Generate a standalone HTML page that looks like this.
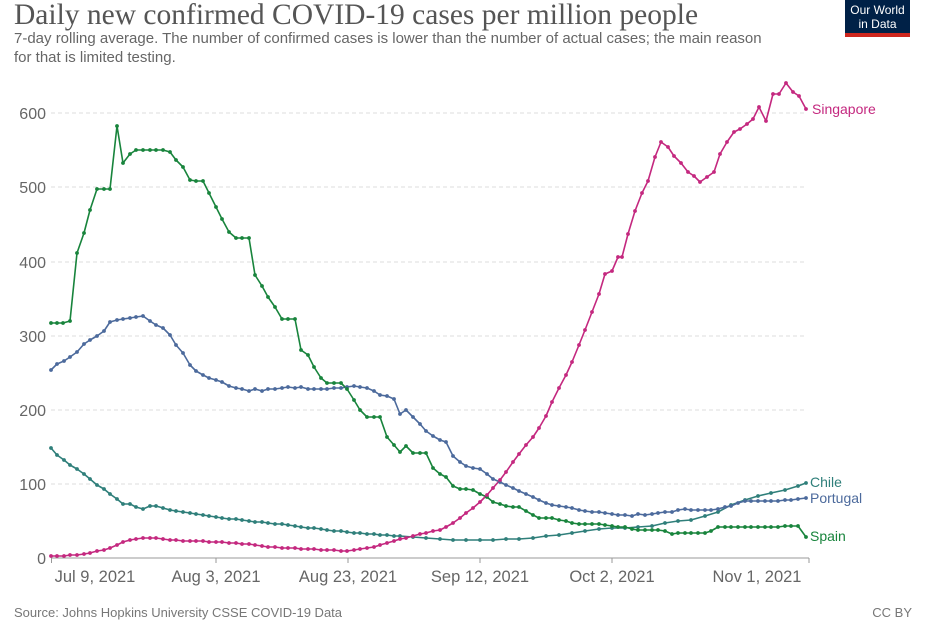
<!DOCTYPE html>
<html><head><meta charset="utf-8"><style>
body{margin:0;width:928px;height:621px;background:#fff;overflow:hidden;font-family:"Liberation Sans",sans-serif}
</style></head><body>
<svg width="928" height="621" viewBox="0 0 928 621" xmlns="http://www.w3.org/2000/svg" font-family="Liberation Sans, sans-serif">
<text x="14" y="24" font-family="Liberation Serif, serif" font-size="29.5" fill="#555">Daily new confirmed COVID-19 cases per million people</text>
<text x="14" y="43" font-size="15" fill="#666">7-day rolling average. The number of confirmed cases is lower than the number of actual cases; the main reason</text>
<text x="14" y="62" font-size="15" fill="#666">for that is limited testing.</text>
<rect x="845" y="0" width="65" height="33" fill="#002147"/>
<rect x="845" y="33" width="65" height="4" fill="#ce261e"/>
<text x="877.5" y="14" font-size="12" fill="#fff" text-anchor="middle">Our World</text>
<text x="877.5" y="28" font-size="12" fill="#fff" text-anchor="middle">in Data</text>
<g stroke="#ddd" stroke-dasharray="4,3" stroke-width="1">
<line x1="51" x2="806" y1="113" y2="113"/><line x1="51" x2="806" y1="187" y2="187"/>
<line x1="51" x2="806" y1="262" y2="262"/><line x1="51" x2="806" y1="336" y2="336"/>
<line x1="51" x2="806" y1="410" y2="410"/><line x1="51" x2="806" y1="484" y2="484"/>
</g>
<line x1="51" x2="809" y1="558" y2="558" stroke="#999"/>
<g stroke="#999"><line x1="51.5" x2="51.5" y1="558" y2="563"/><line x1="216" x2="216" y1="558" y2="563"/><line x1="348" x2="348" y1="558" y2="563"/><line x1="480" x2="480" y1="558" y2="563"/><line x1="612" x2="612" y1="558" y2="563"/><line x1="809" x2="809" y1="558" y2="563"/></g>
<g font-size="16" fill="#666" text-anchor="end">
<text x="46" y="119">600</text><text x="46" y="193">500</text><text x="46" y="268">400</text><text x="46" y="342">300</text><text x="46" y="416">200</text><text x="46" y="490">100</text><text x="46" y="564">0</text>
</g>
<g font-size="16.5" fill="#666" text-anchor="middle">
<text x="95" y="582">Jul 9, 2021</text><text x="216" y="582">Aug 3, 2021</text><text x="348" y="582">Aug 23, 2021</text><text x="480" y="582">Sep 12, 2021</text><text x="612" y="582">Oct 2, 2021</text><text x="757" y="582">Nov 1, 2021</text>
</g>
<text x="14" y="617" font-size="13" fill="#777">Source: Johns Hopkins University CSSE COVID-19 Data</text>
<text x="912" y="617" font-size="13" fill="#777" text-anchor="end">CC BY</text>

<g fill="none" stroke-width="1.6" stroke-linejoin="round">
<polyline id="chile" stroke="#2f7f7a" points="51,448 57,455 64,460 70,465 77,469 84,474 90,479 97,485 104,489 110,494 117,499 123,504 130,504 136,507 143,509 150,506 156,506 163,508 170,510 176,511 183,512 190,513 196,514 203,515 209,516 216,517 222,518 229,519 236,519 242,520 249,521 255,522 262,522 268,523 275,524 282,524 288,525 295,526 301,527 308,528 314,528 321,529 327,530 334,531 341,531 347,532 354,533 360,533 367,534 374,534 380,535 387,535 394,536 400,536 413,537 426,538 440,539 453,540 466,540 480,540 493,540 506,539 519,539 533,538 546,536 559,535 572,533 585,531 599,529 612,528 625,528 638,527 652,526 665,523 678,521 691,520 705,516 718,512 731,505 745,500 758,496 771,493 785,490 798,486 806,483"/>
<polyline id="portugal" stroke="#4c6a9c" points="51,370 57,364 64,361 70,357 77,352 84,344 90,340 97,336 104,331 110,322 117,320 123,319 130,318 136,317 143,316 150,321 156,325 163,328 170,335 176,345 183,353 190,365 196,371 203,375 209,378 216,380 222,382 229,386 236,388 242,389 249,391 255,389 262,391 268,389 275,389 282,388 288,387 295,388 301,387 308,389 314,389 321,389 327,389 334,388 341,388 347,387 354,386 360,387 367,388 374,391 380,395 387,396 394,399 400,414 406,410 413,417 420,424 426,431 433,436 440,440 446,442 453,456 460,462 466,466 473,468 480,469 487,474 493,479 500,482 506,485 513,488 519,491 526,494 533,497 539,500 546,503 552,505 559,506 566,507 572,508 579,510 585,511 592,512 599,512 605,513 612,514 618,515 625,515 632,516 638,514 645,515 652,514 658,513 665,512 672,512 678,510 685,509 691,510 698,510 705,510 711,510 718,509 725,507 731,506 738,503 745,501 751,501 758,501 765,501 771,501 778,501 785,500 791,500 798,499 806,498"/>
<polyline id="spain" stroke="#18843c" points="51,323 57,323 63,323 70,321 77,253 84,233 90,210 97,189 104,189 110,189 117,126 123,163 130,154 136,150 143,150 150,150 156,150 163,150 170,152 176,160 183,167 190,180 196,181 203,181 209,193 216,207 222,219 229,232 236,238 242,238 249,238 255,275 262,286 268,297 275,307 282,319 288,319 295,319 301,350 308,355 314,367 321,378 327,383 334,383 341,383 347,389 354,400 360,410 367,417 374,417 380,417 387,437 394,445 400,452 406,446 413,453 420,453 426,453 433,468 440,474 446,477 453,486 460,489 466,489 473,490 480,494 487,497 493,502 500,504 506,506 513,507 519,507 526,511 533,515 539,518 546,518 552,518 559,520 566,521 572,523 579,524 585,524 592,524 599,524 605,525 612,526 618,527 625,527 632,529 638,530 645,530 652,530 658,530 665,531 672,534 678,533 685,533 691,533 698,533 705,533 711,531 718,527 725,527 731,527 738,527 745,527 751,527 758,527 765,527 771,527 778,527 785,526 791,526 798,526 806,537"/>
<polyline id="sing" stroke="#c4287f" points="51,556 57,556 64,556 70,555 77,555 84,554 90,553 97,551 104,550 110,548 117,545 123,542 130,540 136,539 143,538 150,538 156,538 163,539 170,540 176,540 183,541 190,541 196,541 203,541 209,542 216,542 222,542 229,543 236,543 242,544 249,544 255,545 262,546 268,547 275,547 282,548 288,548 295,548 301,549 308,549 314,549 321,550 327,550 334,550 341,551 347,551 354,550 360,549 367,548 374,547 380,545 387,543 394,541 400,539 406,538 413,536 420,534 426,533 433,531 440,530 446,527 453,523 460,518 466,513 473,508 480,502 487,495 493,488 500,480 506,472 513,462 519,454 526,445 533,437 539,428 546,416 552,402 559,388 566,375 572,362 579,345 585,330 592,312 599,294 605,274 612,271 618,257 622,257 628,234 635,211 642,193 648,181 655,157 661,142 668,147 674,156 681,163 688,172 694,176 700,182 707,177 714,172 720,154 727,142 734,132 740,129 747,124 753,119 759,107 766,121 773,94 779,94 786,83 793,92 799,96 806,109"/>
</g>
<g id="dots"></g>
<g font-size="14">
<text x="812" y="114" fill="#c4287f">Singapore</text>
<text x="810" y="487" fill="#2f7f7a">Chile</text>
<text x="810" y="503" fill="#4c6a9c">Portugal</text>
<text x="810" y="541" fill="#18843c">Spain</text>
</g>
</svg>
<script>
var g=document.getElementById('dots');
['chile','portugal','spain','sing'].forEach(function(id){
 var p=document.getElementById(id),c=p.getAttribute('stroke');
 p.getAttribute('points').trim().split(/\s+/).forEach(function(s){
  var a=s.split(',');var e=document.createElementNS('http://www.w3.org/2000/svg','circle');
  e.setAttribute('cx',a[0]);e.setAttribute('cy',a[1]);e.setAttribute('r','1.9');e.setAttribute('fill',c);g.appendChild(e);
 });
});
</script>
</body></html>
